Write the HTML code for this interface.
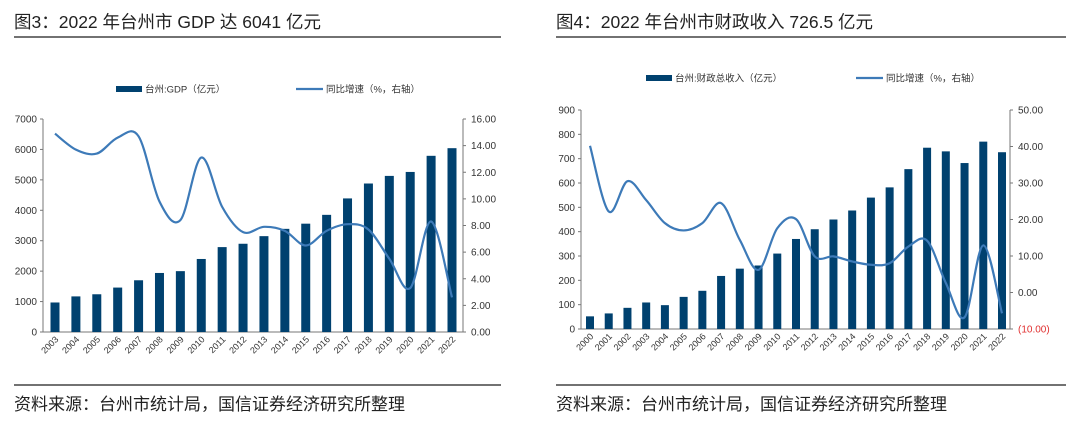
<!DOCTYPE html>
<html><head><meta charset="utf-8"><style>
body{margin:0;background:#fff;width:1080px;height:431px;overflow:hidden;font-family:"Liberation Sans","Noto Sans CJK SC",sans-serif}
svg text{font-family:"Liberation Sans","Noto Sans CJK SC",sans-serif}
</style></head><body>
<svg id="s" width="1080" height="431">
<text x="14" y="28" font-size="17.5" fill="#222">图3：2022 年台州市 GDP 达 6041 亿元</text>
<line x1="14" y1="37" x2="501" y2="37" stroke="#444" stroke-width="1.5"/>
<text x="556" y="28" font-size="17.5" fill="#222">图4：2022 年台州市财政收入 726.5 亿元</text>
<line x1="556" y1="37" x2="1066" y2="37" stroke="#444" stroke-width="1.5"/>
<line x1="14" y1="385" x2="501" y2="385" stroke="#444" stroke-width="1.5"/>
<line x1="556" y1="385" x2="1066" y2="385" stroke="#444" stroke-width="1.5"/>
<text x="14" y="410" font-size="17" fill="#222">资料来源：台州市统计局，国信证券经济研究所整理</text>
<text x="556" y="410" font-size="17" fill="#222">资料来源：台州市统计局，国信证券经济研究所整理</text>
<g id="c1"></g><g id="c2"></g>
</svg>
<script>
const gdpYears=['2003','2004','2005','2006','2007','2008','2009','2010','2011','2012','2013','2014','2015','2016','2017','2018','2019','2020','2021','2022'];
const gdpValues=[970,1170,1240,1460,1700,1940,2000,2400,2790,2900,3150,3390,3560,3850,4390,4880,5130,5260,5790,6041];
const gdpGrowth=[14.9,13.7,13.4,14.6,14.7,9.8,8.4,13.1,9.4,7.5,7.9,7.6,6.5,7.6,8.1,7.7,5.5,3.3,8.3,2.6];
const gdpLeftTicks=[0,1000,2000,3000,4000,5000,6000,7000];
const gdpRightTicks=['0.00','2.00','4.00','6.00','8.00','10.00','12.00','14.00','16.00'];
const revYears=['2000','2001','2002','2003','2004','2005','2006','2007','2008','2009','2010','2011','2012','2013','2014','2015','2016','2017','2018','2019','2020','2021','2022'];
const revValues=[52,64,87,109,98,132,157,218,248,261,310,370,410,450,487,540,582,657,745,730,682,770,726.5];
const revGrowth=[40.2,22.2,30.5,25.3,19,17,19,24.5,14.4,6.2,17.6,20.1,9.9,9.9,8.5,7.6,8,12.6,14.2,2.6,-6.8,12.9,-5.7];
const revLeftTicks=[0,100,200,300,400,500,600,700,800,900];
const revRightTicks=['(10.00)','0.00','10.00','20.00','30.00','40.00','50.00'];
const NS='http://www.w3.org/2000/svg';
function mk(p,t,a,txt){const e=document.createElementNS(NS,t);for(const k in a)e.setAttribute(k,a[k]);if(txt!==undefined)e.textContent=txt;p.appendChild(e);return e;}
function chart(g,o){
 const {x0,x1,y0,y1,lmax,rmin,rmax,cats,vals,gr,lt,rt,first,last,bw}=o;
 const yl=v=>y0-(v/lmax)*(y0-y1);
 const yr=v=>y0-((v-rmin)/(rmax-rmin))*(y0-y1);
 const step=(last-first)/(cats.length-1);
 const xc=i=>first+i*step;
 mk(g,'line',{x1:x0,y1:y1,x2:x0,y2:y0,stroke:'#777'});
 mk(g,'line',{x1:x1,y1:y1,x2:x1,y2:y0,stroke:'#777'});
 mk(g,'line',{x1:x0,y1:y0,x2:x1,y2:y0,stroke:'#777'});
 lt.forEach(v=>{const y=yl(v);mk(g,'line',{x1:x0-3,y1:y,x2:x0,y2:y,stroke:'#777'});
  const t=mk(g,'text',{x:x0-6,y:y+3.5,'font-size':10,'text-anchor':'end',fill:'#333'},String(v));
  });
 rt.forEach((s,i)=>{const v=rmin+i*(rmax-rmin)/(rt.length-1);const y=yr(v);mk(g,'line',{x1:x1,y1:y,x2:x1+3,y2:y,stroke:'#777'});
  const t=mk(g,'text',{x:x1+8,y:y+3.5,'font-size':10,fill:s[0]=='('?'#e03030':'#333'},s);
  });
 cats.forEach((c,i)=>{
  const b=mk(g,'rect',{x:xc(i)-bw/2,y:yl(vals[i]),width:bw,height:y0-yl(vals[i]),fill:'#00416f'});
  
  const t=mk(g,'text',{x:xc(i)+4,y:y0+8,'font-size':9,'text-anchor':'end',fill:'#333',transform:`rotate(-45 ${xc(i)+4} ${y0+8})`},c);
  
 });
 const P=gr.map((v,i)=>[xc(i),yr(v)]);
 let d='M'+P[0][0]+','+P[0][1];
 for(let i=0;i<P.length-1;i++){const p0=P[i-1]||P[i],p1=P[i],p2=P[i+1],p3=P[i+2]||p2;
  d+=` C${p1[0]+(p2[0]-p0[0])/6},${p1[1]+(p2[1]-p0[1])/6} ${p2[0]-(p3[0]-p1[0])/6},${p2[1]-(p3[1]-p1[1])/6} ${p2[0]},${p2[1]}`;}
 const l=mk(g,'path',{d:d,fill:'none',stroke:'#3d7ab8','stroke-width':2.2});
 
 const L=o.leg;
 mk(g,'rect',{x:L.bx,y:L.y-3,width:26,height:6,fill:'#00416f'});
 const t1=mk(g,'text',{x:L.bx+29,y:L.y+3.5,'font-size':9.5,fill:'#333'},L.bt);
 
 mk(g,'line',{x1:L.lx,y1:L.y,x2:L.lx+27,y2:L.y,stroke:'#3d7ab8','stroke-width':2.2});
 const t2=mk(g,'text',{x:L.lx+30,y:L.y+3.5,'font-size':9.5,fill:'#333'},L.lt);
 
}
const c1=document.getElementById('c1');


chart(c1,{x0:43,x1:463,y0:332,y1:119,lmax:7000,rmin:0,rmax:16,cats:gdpYears,vals:gdpValues,gr:gdpGrowth,lt:gdpLeftTicks,rt:gdpRightTicks,first:55,last:452,bw:9,
 leg:{y:89,bx:116,lx:296,bt:'台州:GDP（亿元）',lt:'同比增速（%，右轴）'}});
const c2=document.getElementById('c2');


chart(c2,{x0:581,x1:1010,y0:329,y1:110,lmax:900,rmin:-10,rmax:50,cats:revYears,vals:revValues,gr:revGrowth,lt:revLeftTicks,rt:revRightTicks,first:590,last:1002,bw:8,
 leg:{y:78,bx:646,lx:856,bt:'台州:财政总收入（亿元）',lt:'同比增速（%，右轴）'}});
</script>
</body></html>
